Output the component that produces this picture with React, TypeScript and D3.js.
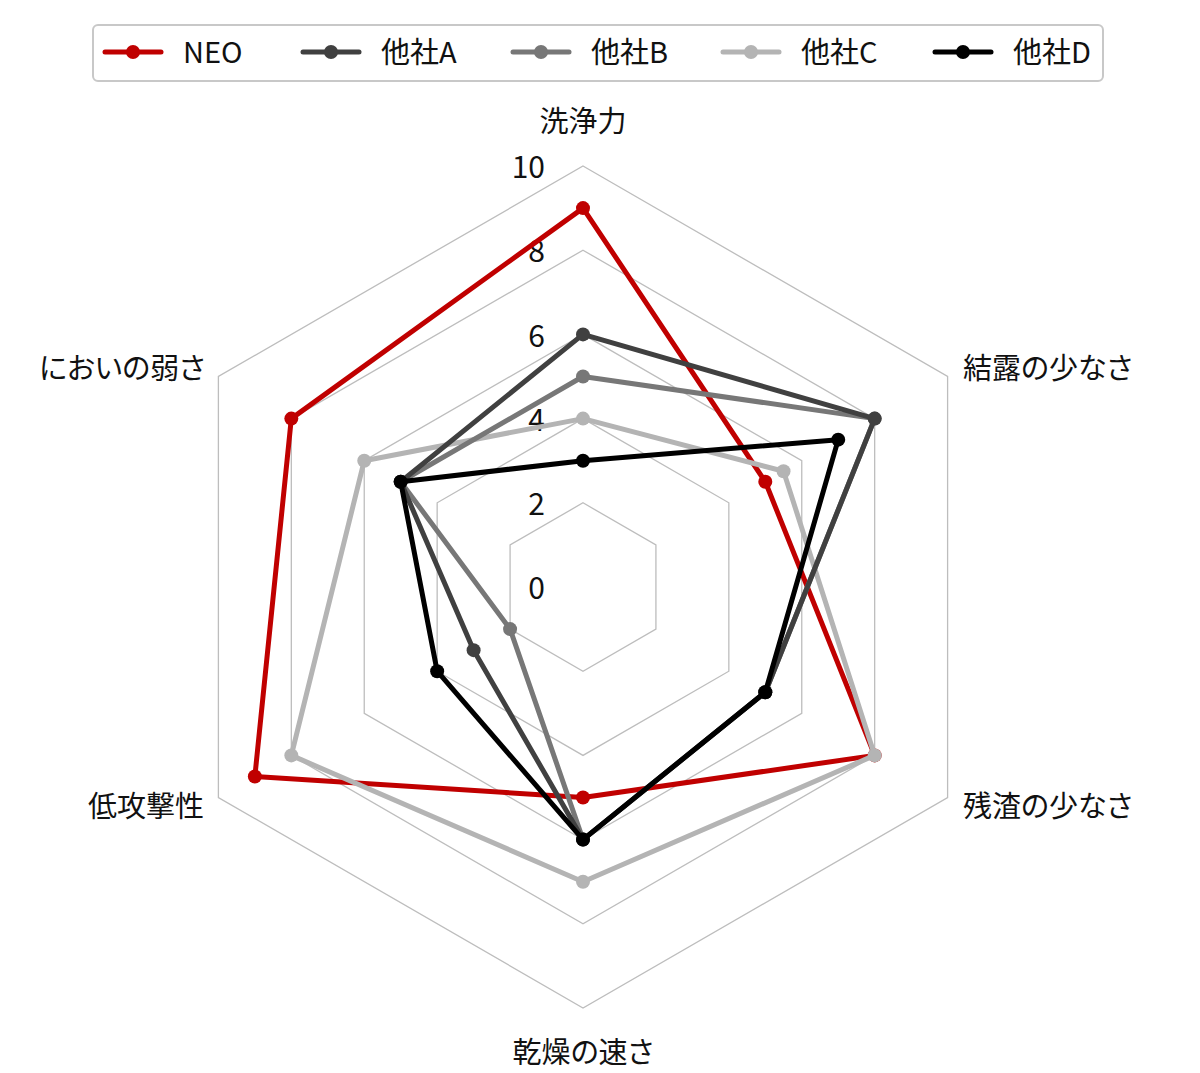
import React from 'react';
import * as d3 from 'd3';

const axes: string[] = ['洗浄力', '結露の少なさ', '残渣の少なさ', '乾燥の速さ', '低攻撃性', 'においの弱さ'];
const seriesNames: string[] = ['NEO', '他社A', '他社B', '他社C', '他社D'];
const seriesColors: string[] = ['#c00000', '#404040', '#777777', '#b4b4b4', '#000000'];

const neo: number[] = [9, 5, 8, 5, 9, 8];
const otherA: number[] = [6, 8, 5, 6, 3, 5];
const otherB: number[] = [5, 8, 5, 6, 2, 5];
const otherC: number[] = [4, 5.5, 8, 7, 8, 6];
const otherD: number[] = [3, 7, 5, 6, 4, 5];

const ticks: number[] = [0, 2, 4, 6, 8, 10];
const gridLevels: number[] = [2, 4, 6, 8, 10];

const FONT = '"Noto Sans CJK JP", "Noto Sans", sans-serif';

const W = 1200;
const H = 1073;
const cx = 583;
const cy = 587;

const r = d3.scaleLinear().domain([0, 10]).range([0, 421]);
const angle = d3.scalePoint<string>().domain(axes).range([0, 2 * Math.PI * 5 / 6]);

const pt = (axis: string, v: number): [number, number] => {
  const a = angle(axis)!;
  return [cx + r(v) * Math.sin(a), cy - r(v) * Math.cos(a)];
};

const radarLine = d3.line<[number, number]>().curve(d3.curveLinearClosed);

const textStyle: React.CSSProperties = { fontFeatureSettings: '"palt"' };

export default function App() {
  const allSeries = [neo, otherA, otherB, otherC, otherD];
  // drawing order so NEO sits under the grays like the reference
  const order = [0, 3, 2, 1, 4];

  const labelPos = [
    { x: cx, y: 124, anchor: 'middle' },
    { x: 963, y: 371, anchor: 'start' },
    { x: 963, y: 809, anchor: 'start' },
    { x: cx, y: 1055, anchor: 'middle' },
    { x: 204, y: 809, anchor: 'end' },
    { x: 205, y: 371, anchor: 'end' },
  ];

  const legendX = [105, 303, 513, 723, 935];

  return (
    <svg width={W} height={H} style={{ display: 'block', margin: -8, background: '#fff' }}>
      <rect x={0} y={0} width={W} height={H} fill="#fff" />
      {/* grid */}
      {gridLevels.map((lv) => (
        <path
          key={lv}
          d={radarLine(axes.map((a) => pt(a, lv)))!}
          fill="none"
          stroke="#bdbdbd"
          strokeWidth={1.3}
        />
      ))}
      {/* tick labels */}
      {ticks.map((t) => (
        <text
          key={t}
          x={545}
          y={cy - r(t) + 4}
          textAnchor="end"
          dominantBaseline="middle"
          fontFamily={FONT}
          fontSize={30}
          fill="#111"
        >
          {t}
        </text>
      ))}
      {/* axis labels */}
      {axes.map((a, i) => (
        <text
          key={a}
          x={labelPos[i].x}
          y={labelPos[i].y}
          textAnchor={labelPos[i].anchor as any}
          dominantBaseline="middle"
          fontFamily={FONT}
          fontSize={29}
          fill="#111"
          style={textStyle}
        >
          {a}
        </text>
      ))}
      {/* series */}
      {order.map((si) => (
        <g key={si}>
          <path
            d={radarLine(axes.map((a, i) => pt(a, allSeries[si][i])))!}
            fill="none"
            stroke={seriesColors[si]}
            strokeWidth={5}
            strokeLinejoin="round"
          />
          {axes.map((a, i) => {
            const [x, y] = pt(a, allSeries[si][i]);
            return <circle key={a} cx={x} cy={y} r={7} fill={seriesColors[si]} />;
          })}
        </g>
      ))}
      {/* legend */}
      <rect x={93} y={25} width={1010} height={56} rx={5} fill="#fff" stroke="#c8c8c8" strokeWidth={2} />
      {seriesNames.map((n, i) => (
        <g key={n}>
          <line
            x1={legendX[i]}
            x2={legendX[i] + 56}
            y1={52}
            y2={52}
            stroke={seriesColors[i]}
            strokeWidth={5}
            strokeLinecap="round"
          />
          <circle cx={legendX[i] + 28} cy={52} r={7} fill={seriesColors[i]} />
          <text
            x={legendX[i] + 78}
            y={55}
            dominantBaseline="middle"
            fontFamily={FONT}
            fontSize={29}
            fill="#111"
            style={textStyle}
          >
            {n}
          </text>
        </g>
      ))}
    </svg>
  );
}
